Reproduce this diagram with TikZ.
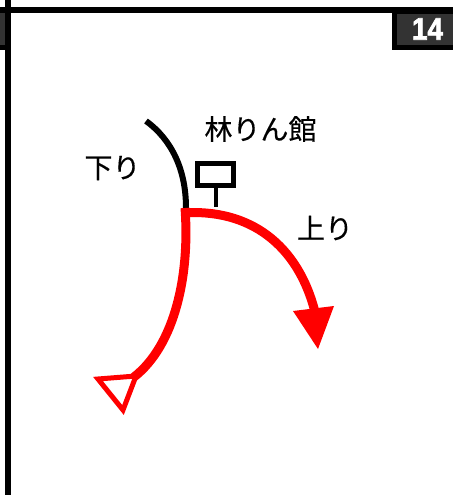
\documentclass[tikz,border=0pt]{standalone}
\usepackage{fontspec}
\newfontfamily\cjk{Noto Sans CJK JP}[FakeBold=0.4]
\newfontfamily\numf{Liberation Sans Bold}[FakeBold=2.5]
\definecolor{tagfill}{HTML}{333333}
\tikzset{
  label text/.style={font=\cjk\fontsize{28}{28}\selectfont,text=black,inner sep=0pt,anchor=center},
  redline/.style={draw=red,line width=9pt,line cap=butt},
  blackline/.style={draw=black,line width=6pt}
}
\begin{document}
\begin{tikzpicture}[x=1pt,y=-1pt]
\useasboundingbox (0,0) rectangle (453,495);
% frame
\fill[black] (0,7) rectangle (453,13);
\fill[black] (5,0) rectangle (11,495);
\fill[black] (0,13) rectangle (5,50);
\fill[tagfill] (0,13) rectangle (5,45);
\fill[black] (392,7) rectangle (453,50);
\fill[tagfill] (397,14) rectangle (453,45);
\node[inner sep=0pt,text=white,font=\numf\fontsize{31}{31}\selectfont,xscale=0.9] (num) at (427.5,29) {14};
% labels
\node[label text] (station) at (260.5,129) {林りん館};
\node[label text] (down) at (112.5,168) {下り};
\node[label text] (up) at (325,228) {上り};
% station symbol
\node[draw=black,line width=5pt,minimum width=36pt,minimum height=22pt,inner sep=0pt] (sign) at (215.5,174.5) {};
\coordinate (signfoot) at (215.5,207);
\draw[black,line width=4pt] (sign.south) -- (signfoot);
% black track
\coordinate (ts) at (146,121);
\coordinate (tj) at (186,208);
\draw[blackline] (ts) .. controls (172,140) and (186,170) .. (tj);
% red down line with open triangle
\coordinate (rj) at (185,208);
\coordinate (re) at (134,377);
\draw[redline] (rj) .. controls (190,275) and (175,345) .. (re);
\coordinate (ta) at (136,376);
\coordinate (tb) at (98,379);
\coordinate (tc) at (123,410);
\draw[draw=red,line width=5pt,miter limit=10] (ta) -- (tb) -- (tc) -- cycle;
% red up arrow
\coordinate (ru) at (182,213);
\coordinate (rv) at (315,312);
\draw[redline] (ru) .. controls (250,208) and (298,245) .. (rv);
\coordinate (aa) at (293,311);
\coordinate (ab) at (334,306);
\coordinate (ac) at (318,349);
\fill[red] (aa) -- (ab) -- (ac) -- cycle;
\end{tikzpicture}
\end{document}
